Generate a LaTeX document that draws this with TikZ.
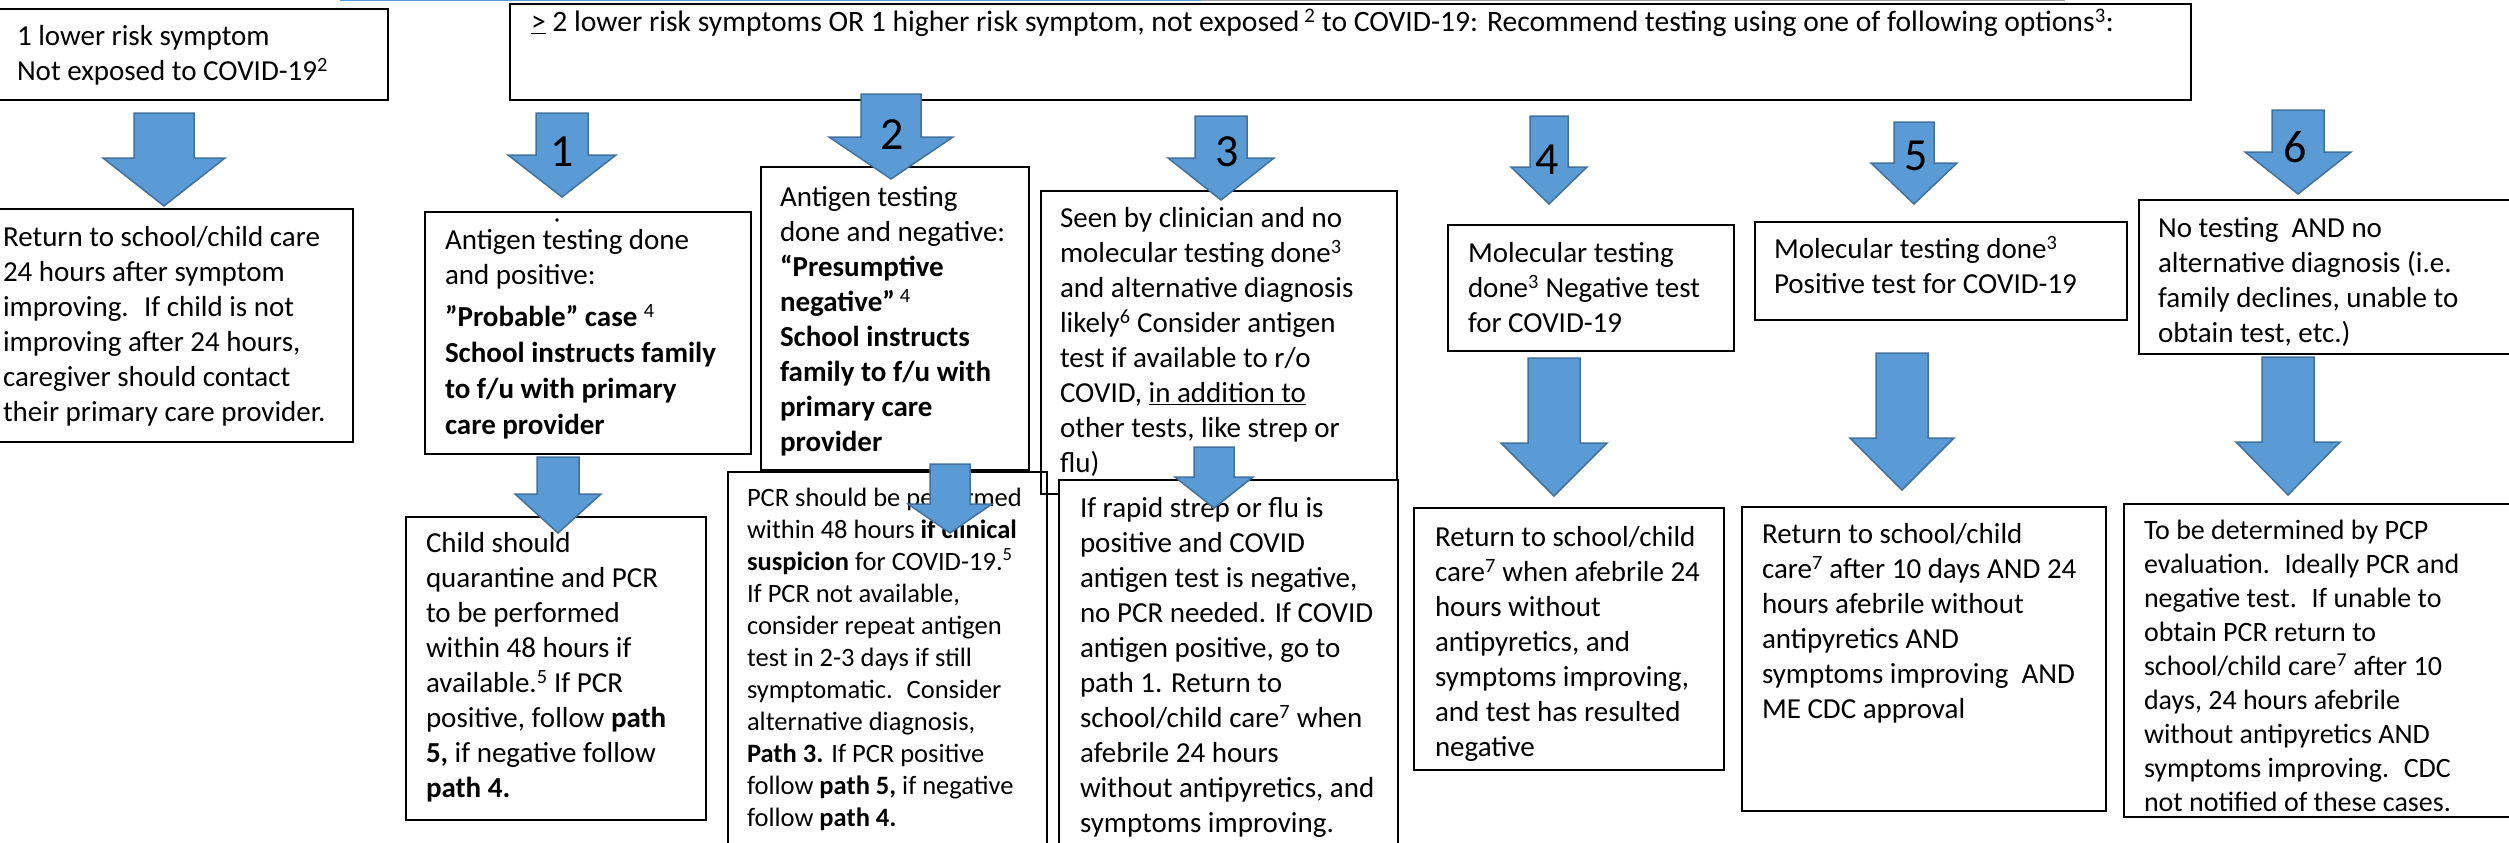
\documentclass[tikz,border=0pt]{standalone}
\usepackage{fontspec}
\setmainfont{Carlito}
\usepackage{tikz}
\definecolor{arrowfill}{RGB}{91,155,213}
\definecolor{arrowline}{RGB}{65,113,156}
\definecolor{stripgray}{RGB}{165,165,165}
\tikzstyle{box} = [draw, line width=2pt, anchor=north west, font=\fontsize{29}{35}\selectfont]
\tikzstyle{smallbox} = [box, font=\fontsize{26.5}{32}\selectfont]
\tikzstyle{blockarrow} = [fill=arrowfill, draw=arrowline, line width=1.5pt, line join=miter]
\tikzstyle{pathnum} = [inner sep=0pt, font=\fontsize{46}{50}\selectfont]
\newcommand{\boxtext}[3]{\parbox[t][#2pt][t]{#1pt}{\raggedright\strut #3}}
\newcommand{\blockdown}[6]{%
  \draw[blockarrow] ({#1-#2},#3) -- ({#1+#2},#3) -- ({#1+#2},#4) -- ({#1+#5},#4)
    -- (#1,#6) -- ({#1-#5},#4) -- ({#1-#2},#4) -- cycle;}

\begin{document}
\begin{tikzpicture}[x=1pt, y=-1pt]
    \useasboundingbox (0,0) rectangle (2509,843);

    \draw[line width=2pt, arrowfill] (340,0.5) -- (1201,0.5);
    \draw[line width=2pt, stripgray] (1201,0.5) -- (2065,0.5);

    \node[box, inner xsep=19pt, inner ysep=12.5pt] (lowrisk) at (-3,8)
        {\boxtext{352}{66}{1 lower risk symptom\\ Not exposed to COVID-19\textsuperscript{2}}};
    \node[box, font=\fontsize{29.6}{35}\selectfont, inner xsep=21pt, inner ysep=3.5pt] (options) at (509,3)
        {\boxtext{1639}{89}{\underline{>} 2 lower risk symptoms OR 1 higher risk symptom, not exposed\,\textsuperscript{2} to COVID-19: Recommend testing using one of following options\textsuperscript{3}:}};

    \node[box, inner xsep=5pt, inner ysep=13pt] (selfcare) at (-3,208)
        {\boxtext{345}{207}{Return to school/child care\\ 24 hours after symptom\\ improving.~ If child is not\\ improving after 24 hours,\\ caregiver should contact\\ their primary care provider.}};

    \node[box, inner xsep=20pt, inner ysep=13pt] (antpos) at (424,211)
        {\boxtext{286}{216}{Antigen testing done\\ and positive:\\[7pt] \textbf{”Probable” case} \textsuperscript{4}\\[1pt] \textbf{School instructs family}\\[1pt] \textbf{to f/u with primary}\\[1pt] \textbf{care provider}}};
    \fill (557,220) circle (1.8pt);
    \node[box, inner xsep=20pt, inner ysep=11pt] (quarantine) at (405,516)
        {\boxtext{260}{281}{Child should\\ quarantine and PCR\\ to be performed\\ within 48 hours if\\ available.\textsuperscript{5} If PCR\\ positive, follow \textbf{path}\\ \textbf{5,} if negative follow\\ \textbf{path 4.}}};

    \node[box, inner xsep=19pt, inner ysep=15pt] (antneg) at (760,166)
        {\boxtext{230}{273}{Antigen testing\\ done and negative:\\ \textbf{“Presumptive}\\ \textbf{negative”}\,\textsuperscript{4}\\ \textbf{School instructs}\\ \textbf{family to f/u with}\\ \textbf{primary care}\\ \textbf{provider}}};
    \node[smallbox, inner xsep=19pt, inner ysep=11.6pt] (pcrcheck) at (727,471)
        {\boxtext{281}{366}{PCR should be performed\\ within 48 hours \textbf{if clinical}\\ \textbf{suspicion} for COVID-19.\textsuperscript{5}\\ If PCR not available,\\ consider repeat antigen\\ test in 2-3 days if still\\ symptomatic.~ Consider\\ alternative diagnosis,\\ \textbf{Path 3.} If PCR positive\\ follow \textbf{path 5,} if negative\\ follow \textbf{path 4.}}};

    \node[box, inner xsep=19pt, inner ysep=12pt] (clinician) at (1040,190)
        {\boxtext{318}{279}{Seen by clinician and no\\ molecular testing done\textsuperscript{3}\\ and alternative diagnosis\\ likely\textsuperscript{6} Consider antigen\\ test if available to r/o\\ COVID, \underline{in addition to}\\ other tests, like strep or\\ flu)}};
    \node[box, fill=white, inner xsep=21pt, inner ysep=13pt] (rapidtest) at (1058,479)
        {\boxtext{297}{355}{If rapid strep or flu is\\ positive and COVID\\ antigen test is negative,\\ no PCR needed. If COVID\\ antigen positive, go to\\ path 1. Return to\\ school/child care\textsuperscript{7} when\\ afebrile 24 hours\\ without antipyretics, and\\ symptoms improving.}};

    \node[box, inner xsep=20pt, inner ysep=13pt] (molneg) at (1447,224)
        {\boxtext{246}{100}{Molecular testing\\ done\textsuperscript{3} Negative test\\ for COVID-19}};
    \node[box, inner xsep=21pt, inner ysep=14pt] (returnneg) at (1413,507)
        {\boxtext{268}{234}{Return to school/child\\ care\textsuperscript{7} when afebrile 24\\ hours without\\ antipyretics, and\\ symptoms improving,\\ and test has resulted\\ negative}};

    \node[box, inner xsep=19pt, inner ysep=12pt] (molpos) at (1754,221)
        {\boxtext{334}{74}{Molecular testing done\textsuperscript{3}\\ Positive test for COVID-19}};
    \node[box, inner xsep=20pt, inner ysep=12pt] (returnpos) at (1741,506)
        {\boxtext{324}{280}{Return to school/child\\ care\textsuperscript{7} after 10 days AND 24\\ hours afebrile without\\ antipyretics AND\\ symptoms improving~ AND\\ ME CDC approval}};

    \node[box, inner xsep=19pt, inner ysep=13pt] (notest) at (2138,199)
        {\boxtext{384}{128}{No testing~ AND no\\ alternative diagnosis (i.e.\\ family declines, unable to\\ obtain test, etc.)}};
    \node[box, font=\fontsize{28}{34}\selectfont, inner xsep=20pt, inner ysep=12pt] (pcpeval) at (2123,503)
        {\boxtext{397}{289}{To be determined by PCP\\ evaluation.~ Ideally PCR and\\ negative test.~ If unable to\\ obtain PCR return to\\ school/child care\textsuperscript{7} after 10\\ days, 24 hours afebrile\\ without antipyretics AND\\ symptoms improving.~ CDC\\ not notified of these cases.}};

    \blockdown{164}{30}{113}{158}{61}{206}
    \blockdown{562}{26}{113}{155}{54}{197}
    \blockdown{891}{30}{94}{137}{62}{179}
    \blockdown{1221}{26}{116}{158}{53}{200}
    \blockdown{1549}{19}{116}{167}{38}{204}
    \blockdown{1914}{20}{122}{163}{43}{204}
    \blockdown{2298}{26}{110}{152}{53}{194}

    \blockdown{558}{21}{457}{494}{43}{533}
    \blockdown{950}{20}{464}{504}{42}{533}
    \blockdown{1214}{20}{447}{477}{39}{508}
    \blockdown{1554}{26}{358}{443}{53}{496}
    \blockdown{1902}{26}{353}{438}{52}{490}
    \blockdown{2288}{26}{357}{442}{52}{495}

    \node[pathnum] (path1) at (562,152) {1};
    \node[pathnum] (path2) at (892,135) {2};
    \node[pathnum] (path3) at (1227,152) {3};
    \node[pathnum] (path4) at (1547,160) {4};
    \node[pathnum] (path5) at (1916,156) {5};
    \node[pathnum] (path6) at (2295,147) {6};
\end{tikzpicture}
\end{document}
